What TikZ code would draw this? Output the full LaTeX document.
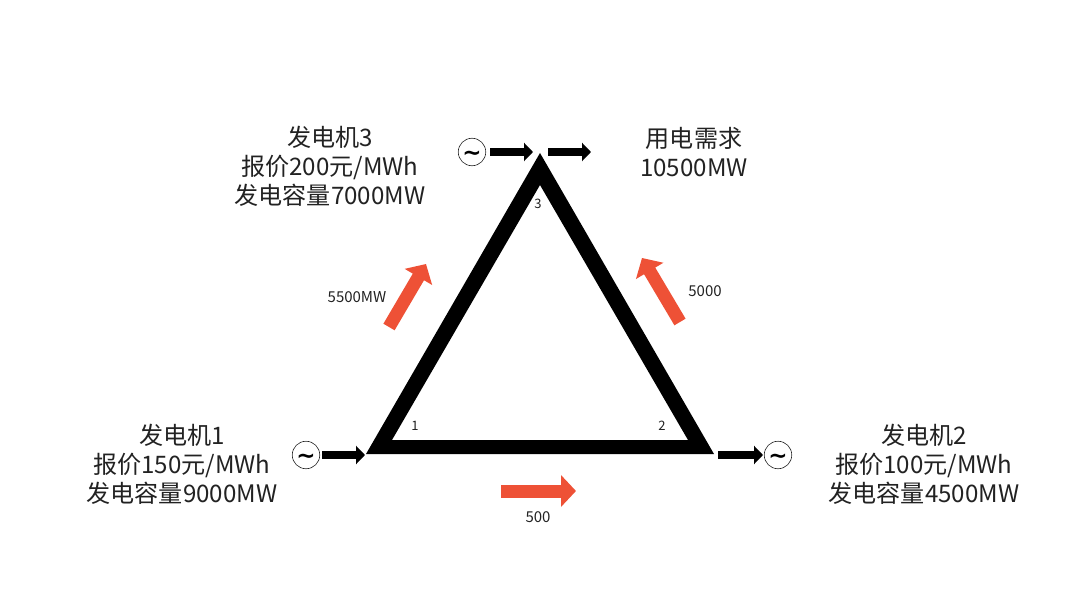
\documentclass[tikz,border=0pt]{standalone}
\usepackage{fontspec}
\setmainfont{Noto Sans CJK SC}
\newfontfamily\tildefont{DejaVu Sans}
\usetikzlibrary{arrows.meta}
\definecolor{flowred}{HTML}{EE5136}
\definecolor{ink}{HTML}{222222}
\tikzset{
  x=1pt,y=-1pt,
  genlabel/.style={align=center,font=\fontsize{24.1}{29}\selectfont,text=ink,inner sep=0pt},
  flowlabel/.style={font=\fontsize{15}{16}\selectfont,text=ink,inner sep=0pt},
  buslabel/.style={font=\fontsize{13}{14}\selectfont,text=ink,inner sep=0pt},
  gen/.style={circle,draw=ink,line width=0.6pt,minimum size=27.5pt,inner sep=0pt,text height=17pt,text depth=0pt,font=\tildefont\bfseries\fontsize{23}{23}\selectfont},
  blackarrow/.style={line width=7.5pt,black,-{Triangle[length=9pt,width=18pt]}},
  redarrow/.style={line width=13pt,flowred,-{Triangle[length=15pt,width=31pt]}},
}
\begin{document}
\begin{tikzpicture}
\useasboundingbox (0,0) rectangle (1080,607);
\fill[white] (0,0) rectangle (1080,607);
% triangle network
\fill[black,even odd rule] (366,454) -- (714,454) -- (540,153) -- cycle
  (392,440) -- (688,440) -- (540,185) -- cycle;
% bus labels
\node[buslabel] (b1) at (415,426) {1};
\node[buslabel] (b2) at (662,426) {2};
\node[buslabel] (b3) at (538,204) {3};
% generators
\node[gen] (g1) at (306,455) {\char"223C};
\node[gen] (g2) at (778,455) {\char"223C};
\node[gen] (g3) at (472,152) {\char"223C};
% free ends
\coordinate (g1s) at (322,455); \coordinate (g1e) at (365,455);
\coordinate (g2s) at (718,455); \coordinate (g2e) at (763,455);
\coordinate (g3s) at (490,152); \coordinate (g3e) at (533,152);
\coordinate (ds) at (548,152); \coordinate (de) at (591,152);
\draw[blackarrow] (g1s) -- (g1e);
\draw[blackarrow] (g2s) -- (g2e);
\draw[blackarrow] (g3s) -- (g3e);
\draw[blackarrow] (ds) -- (de);
% flows
\coordinate (f12s) at (501,491); \coordinate (f12e) at (576,491);
\coordinate (f13s) at (389,327); \coordinate (f13e) at (426,264);
\coordinate (f23s) at (680,322); \coordinate (f23e) at (642,258);
\draw[redarrow] (f12s) -- (f12e);
\draw[redarrow] (f13s) -- (f13e);
\draw[redarrow] (f23s) -- (f23e);
% labels
\node[flowlabel] (l12) at (538,517) {500};
\node[flowlabel] (l13) at (357,297) {5500MW};
\node[flowlabel] (l23) at (705,291) {5000};
\node[genlabel] (t1) at (182,464) {发电机1\\报价150元/MWh\\发电容量9000MW};
\node[genlabel] (t2) at (924,464) {发电机2\\报价100元/MWh\\发电容量4500MW};
\node[genlabel] (t3) at (330,166) {发电机3\\报价200元/MWh\\发电容量7000MW};
\node[genlabel] (t4) at (694,152) {用电需求\\10500MW};
\end{tikzpicture}
\end{document}
